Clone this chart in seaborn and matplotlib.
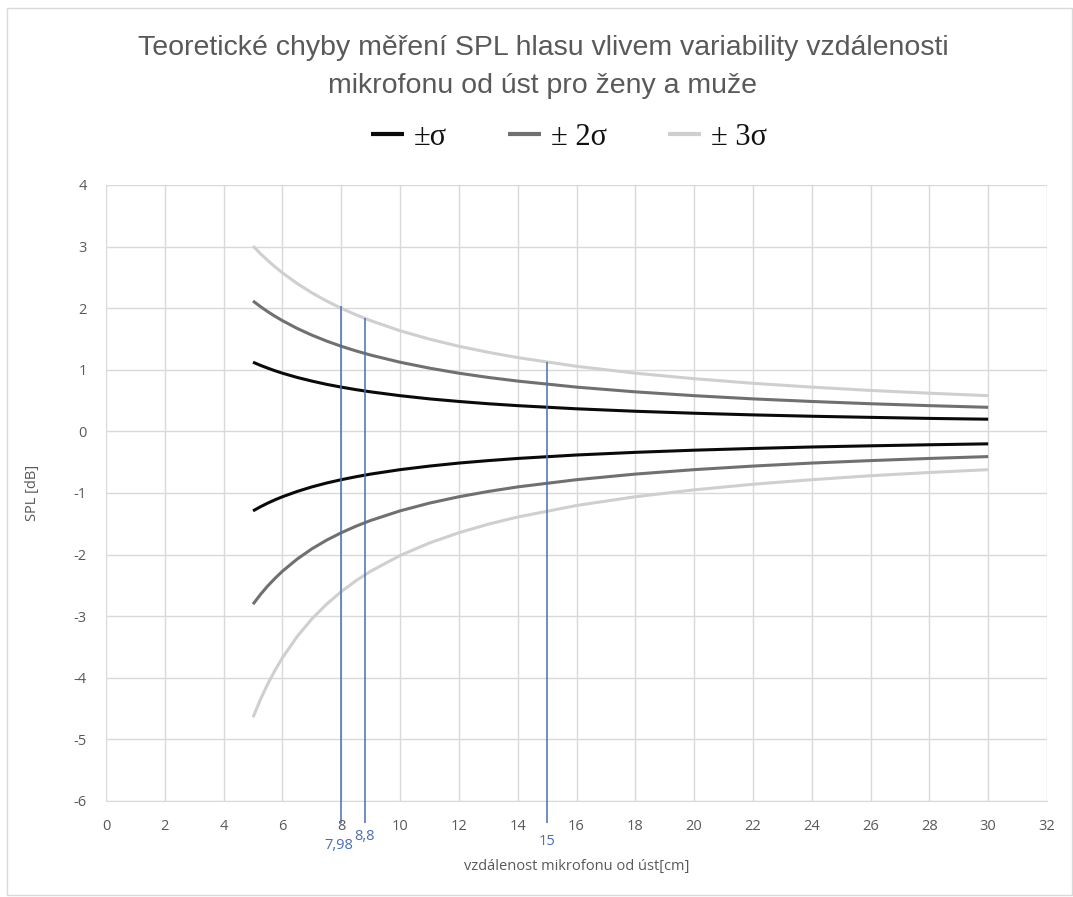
import matplotlib
matplotlib.use("Agg")
import matplotlib.pyplot as plt
import seaborn as sns
import pandas as pd
from matplotlib.patches import Rectangle

# ---- data ----
distance_cm = [5, 5.25, 5.5, 5.75, 6, 6.5, 7, 7.5, 8, 8.5, 9, 10, 11, 12, 13, 14, 16, 18, 20, 22, 24, 26, 28, 30]
plus_1s  = [1.123, 1.073, 1.027, 0.984, 0.945, 0.876, 0.817, 0.764, 0.719, 0.678, 0.642, 0.580, 0.528, 0.486, 0.449, 0.418, 0.367, 0.327, 0.295, 0.268, 0.246, 0.228, 0.211, 0.198]
minus_1s = [-1.290, -1.224, -1.164, -1.110, -1.061, -0.975, -0.901, -0.838, -0.784, -0.736, -0.693, -0.621, -0.563, -0.514, -0.474, -0.439, -0.383, -0.340, -0.305, -0.277, -0.253, -0.234, -0.217, -0.202]
plus_2s  = [2.117, 2.027, 1.944, 1.868, 1.798, 1.672, 1.563, 1.467, 1.382, 1.307, 1.239, 1.123, 1.027, 0.945, 0.876, 0.817, 0.719, 0.642, 0.580, 0.528, 0.486, 0.449, 0.418, 0.391]
minus_2s = [-2.805, -2.649, -2.509, -2.384, -2.270, -2.073, -1.907, -1.766, -1.645, -1.539, -1.446, -1.290, -1.164, -1.061, -0.975, -0.901, -0.784, -0.693, -0.621, -0.563, -0.514, -0.474, -0.439, -0.409]
plus_3s  = [3.009, 2.887, 2.775, 2.671, 2.574, 2.401, 2.250, 2.117, 1.999, 1.893, 1.798, 1.634, 1.498, 1.382, 1.284, 1.198, 1.057, 0.945, 0.856, 0.781, 0.719, 0.665, 0.620, 0.580]
minus_3s = [-4.642, -4.354, -4.101, -3.876, -3.675, -3.330, -3.045, -2.805, -2.601, -2.424, -2.270, -2.015, -1.811, -1.645, -1.506, -1.390, -1.203, -1.061, -0.949, -0.858, -0.784, -0.720, -0.667, -0.621]

series_names = ["\u00b1\u03c3", "\u00b1 2\u03c3", "\u00b1 3\u03c3"]
marker_x = [7.98, 8.8, 15]
marker_top = [2.03, 1.84, 1.12]
marker_labels = ["7,98", "8,8", "15"]

x_ticks = list(range(0, 33, 2))
y_ticks = list(range(-6, 5, 1))

title = "Teoretické chyby měření SPL hlasu vlivem variability vzdálenosti\nmikrofonu od úst pro ženy a muže"
xlabel = "vzdálenost mikrofonu od úst[cm]"
ylabel = "SPL [dB]"

# ---- styling ----
sns.set_style("white")
plt.rcParams['font.family'] = ['Open Sans', 'DejaVu Sans']
plt.rcParams['axes.unicode_minus'] = False

colors = ["#0a0a0a", "#707070", "#cfcfcf"]
grid_c = "#d9d9d9"
text_c = "#595959"
blue = "#4a6db3"

fig = plt.figure(figsize=(10.73, 8.97), dpi=100)
ax = fig.add_axes([106/1073, 1-801/897, (1047-106)/1073, (801-185)/897])

frames = []
for name, up, lo in zip(series_names, [plus_1s, plus_2s, plus_3s], [minus_1s, minus_2s, minus_3s]):
    frames.append(pd.DataFrame({"x": distance_cm, "y": up, "s": name, "side": "up"}))
    frames.append(pd.DataFrame({"x": distance_cm, "y": lo, "s": name, "side": "lo"}))
df = pd.concat(frames, ignore_index=True)

for name, c in zip(series_names, colors):
    for side in ["up", "lo"]:
        d = df[(df.s == name) & (df.side == side)]
        sns.lineplot(data=d, x="x", y="y", color=c, linewidth=2.2, ax=ax,
                     label=name if side == "up" else None, legend=False,
                     solid_capstyle="butt", solid_joinstyle="round")

# blue vertical markers
for xv, top in zip(marker_x, marker_top):
    ax.vlines(xv, -6.35, top, color=blue, linewidth=1.1, clip_on=False, zorder=3)

label_y = [-6.72, -6.57, -6.66]
for xv, ly, lab in zip(marker_x, label_y, marker_labels):
    ax.text(xv - (0.05 if lab == "7,98" else 0), ly, lab, color=blue, fontsize=10.5,
            ha="center", va="center")

ax.set_xlim(0, 32)
ax.set_ylim(-6, 4)
ax.set_xticks(x_ticks)
ax.set_yticks(y_ticks)
ax.grid(True, color=grid_c, linewidth=1.0)
ax.set_axisbelow(True)
for s in ["top", "right", "left"]:
    ax.spines[s].set_visible(False)
ax.spines["bottom"].set_color(grid_c)
ax.tick_params(axis="both", length=0, labelsize=10.5, labelcolor=text_c, pad=14)
ax.tick_params(axis="x", pad=13)

ax.set_xlabel(xlabel, fontsize=10.5, color=text_c, labelpad=18)
ax.set_ylabel(ylabel, fontsize=10.5, color=text_c, labelpad=24)

fig.text(0.506, 0.925, title, ha="center", va="center", fontsize=20.5,
         color=text_c, linespacing=1.6, family=['Liberation Sans', 'DejaVu Sans'])

handles, labels = ax.get_legend_handles_labels()
leg = fig.legend(handles, labels, loc="center", bbox_to_anchor=(0.53, 0.847), ncol=3,
                 frameon=False, handlelength=1.1, handletextpad=0.3, columnspacing=2.0,
                 prop={"family": ["Liberation Serif", "DejaVu Serif"], "size": 22})
for t in leg.get_texts():
    t.set_color("#111111")
for h in leg.legend_handles:
    h.set_linewidth(3)

# outer chart border
fig.patches.append(Rectangle((7/1073, 1-895/897), 1065/1073, 887/897, transform=fig.transFigure,
                             fill=False, edgecolor="#d9d9d9", linewidth=1.0))

fig.savefig("out.png", dpi=100)
